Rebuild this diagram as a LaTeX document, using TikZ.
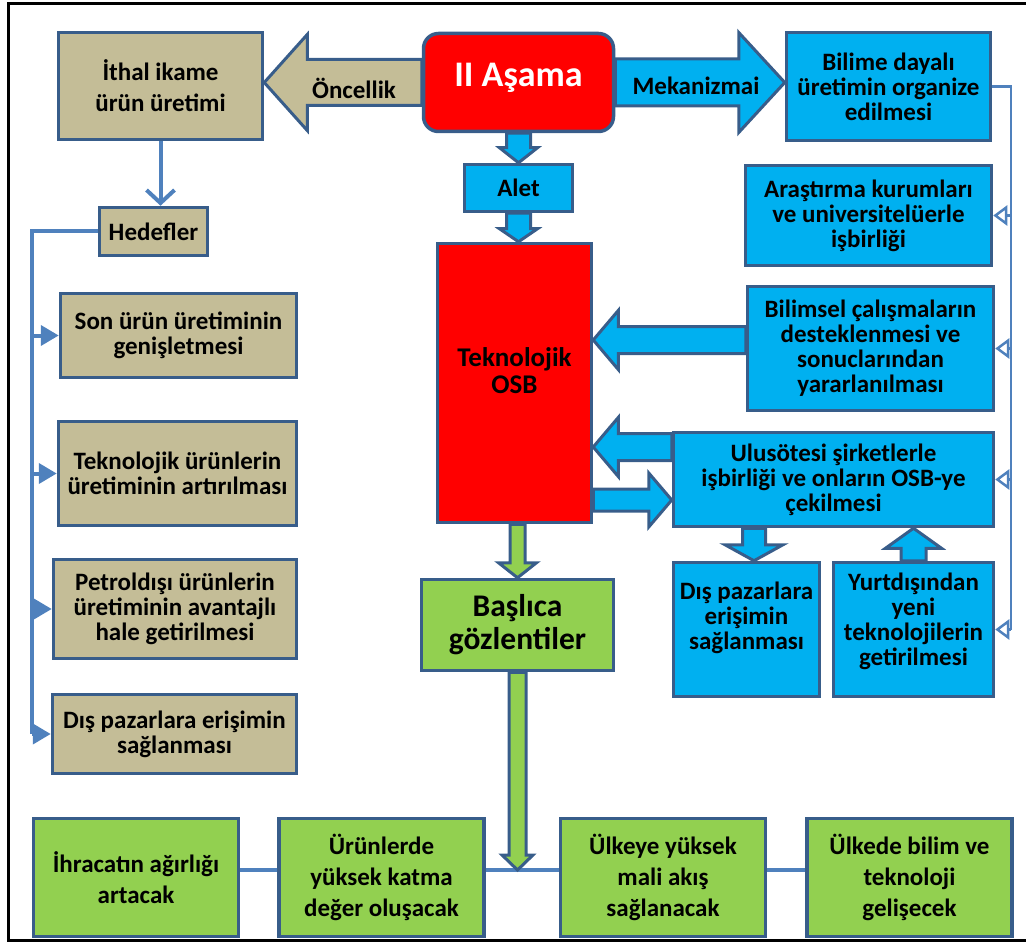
\documentclass[tikz,border=0pt]{standalone}
\usepackage{fontspec}
\setmainfont{Carlito}
\usetikzlibrary{arrows.meta, positioning, calc}
\definecolor{boxline}{RGB}{56,93,138}
\definecolor{linkblue}{RGB}{79,129,189}
\definecolor{tanfill}{RGB}{196,189,151}
\definecolor{skyfill}{RGB}{0,176,240}
\definecolor{redfill}{RGB}{255,0,0}
\definecolor{greenfill}{RGB}{146,208,80}

\newcommand{\blockarrow}[6][]{%
  \draw[fat,#1] ($(#2)!#4!-90:(#3)$) -- ($(#3)!#6!(#2)!#4!-90:(#3)$)
    -- ($(#3)!#6!(#2)!#5!-90:(#3)$) -- (#3)
    -- ($(#3)!#6!(#2)!#5!90:(#3)$) -- ($(#3)!#6!(#2)!#4!90:(#3)$)
    -- ($(#2)!#4!90:(#3)$) -- cycle;}

\begin{document}
\begin{tikzpicture}[
        x=1pt, y=-1pt,
        box/.style={rectangle, draw=boxline, line width=3.5pt, align=center, inner sep=2pt, font=\bfseries\fontsize{25}{25}\selectfont},
        tanbox/.style={box, fill=tanfill},
        bluebox/.style={box, fill=skyfill},
        redbox/.style={box, fill=redfill},
        greenbox/.style={box, fill=greenfill, minimum width=205pt, minimum height=118pt, font=\bfseries\fontsize{25}{31}\selectfont},
        fat/.style={draw=boxline, line width=3pt, line join=miter},
        link/.style={linkblue, line width=4pt},
        thinlink/.style={linkblue, line width=2.5pt},
        rowlink/.style={linkblue, line width=4.5pt},
        lbl/.style={font=\bfseries\fontsize{25}{25}\selectfont}
    ]
        \useasboundingbox (0,0) rectangle (1026,944);
        \draw[line width=3pt] (8,4) rectangle (1040,940);

        \node[tanbox, minimum width=204pt, minimum height=107pt, font=\bfseries\fontsize{25}{31}\selectfont] (ithal) at (160.5,86) {İthal ikame\\ürün üretimi};
        \node[redbox, rounded corners=15pt, minimum width=190pt, minimum height=98pt, text=white, font=\bfseries\fontsize{36}{40}\selectfont, text depth=16pt] (asama) at (518.5,82.5) {II Aşama};
        \node[bluebox, minimum width=204pt, minimum height=108pt] (bilime) at (888.5,86.5) {Bilime dayalı\\üretimin organize\\edilmesi};
        \node[tanbox, minimum width=108pt, minimum height=48pt] (hedef) at (153.5,231.5) {Hedefler};
        \node[bluebox, minimum width=108pt, minimum height=47pt] (alet) at (518.5,188) {Alet};
        \node[bluebox, minimum width=246pt, minimum height=100pt] (arastirma) at (868.5,215.5) {Araştırma kurumları\\ve universitelüerle\\işbirliği};
        \node[redbox, minimum width=154pt, minimum height=279pt, font=\bfseries\fontsize{27}{27}\selectfont, text depth=24pt] (tekosb) at (514.5,383) {Teknolojik\\OSB};
        \node[bluebox, minimum width=246pt, minimum height=124pt] (bilimsel) at (870.5,348.5) {Bilimsel çalışmaların\\desteklenmesi ve\\sonuclarından\\yararlanılması};
        \node[bluebox, minimum width=320pt, minimum height=94pt] (ulus) at (833.5,479.5) {Ulusötesi şirketlerle\\işbirliği ve onların OSB-ye\\çekilmesi};
        \node[bluebox, minimum width=146pt, minimum height=134pt, text depth=28pt] (dispazb) at (746.5,629.5) {Dış pazarlara\\erişimin\\sağlanması};
        \node[bluebox, minimum width=160pt, minimum height=134pt, text depth=21pt] (yurt) at (913.5,629.5) {Yurtdışından\\yeni\\teknolojilerin\\getirilmesi};
        \node[box, fill=greenfill, minimum width=192pt, minimum height=91pt, font=\bfseries\fontsize{31.5}{33}\selectfont] (baslica) at (517.5,625) {Başlıca\\gözlentiler};

        \node[tanbox, minimum width=236pt, minimum height=84pt] (son) at (178.5,335.5) {Son ürün üretiminin\\genişletmesi};
        \node[tanbox, minimum width=238pt, minimum height=104pt] (tekurun) at (177.5,473.5) {Teknolojik ürünlerin\\üretiminin artırılması};
        \node[tanbox, minimum width=243pt, minimum height=99pt] (petrol) at (175,609) {Petroldışı ürünlerin\\üretiminin avantajlı\\hale getirilmesi};
        \node[tanbox, minimum width=244pt, minimum height=79pt] (dispaza) at (174.5,734) {Dış pazarlara erişimin\\sağlanması};

        \node[greenbox] (ihracat) at (136,877.5) {İhracatın ağırlığı\\artacak};
        \node[greenbox, right=37pt of ihracat] (urunler) {Ürünlerde\\yüksek katma\\değer oluşacak};
        \node[greenbox, right=73pt of urunler] (ulkeye) {Ülkeye yüksek\\mali akış\\sağlanacak};
        \node[greenbox, right=38pt of ulkeye] (ulkede) {Ülkede bilim ve\\teknoloji\\gelişecek};

        \coordinate (ltrunk) at (32,0);
        \coordinate (rtrunk) at (1011,0);
        \coordinate (rowline) at (0,870);

        \draw[link, -{Straight Barb[length=13pt, width=28pt]}] (ithal.south) -- (ithal.south |- hedef.north);
        \draw[link] (hedef.west) -| (ltrunk |- dispaza.west);
        \foreach \goal in {son, tekurun, petrol, dispaza}
            \draw[link, -{Triangle[length=18pt, width=20pt]}] (ltrunk |- \goal.west) -- (\goal.west);

        \draw[thinlink] (bilime.east) -| (rtrunk |- yurt.east);
        \foreach \goal in {arastirma, bilimsel, ulus, yurt}
            \draw[thinlink, -{Triangle[open, length=14pt, width=20pt]}] (rtrunk |- \goal.east) -- (\goal.east);

        \draw[rowlink] (ihracat.east |- rowline) -- (urunler.west |- rowline);
        \draw[rowlink] (urunler.east |- rowline) -- (ulkeye.west |- rowline);
        \draw[rowlink] (ulkeye.east |- rowline) -- (ulkede.west |- rowline);

        \coordinate (oncTip) at (asama.west -| ithal.east);
        \coordinate (mekTip) at (asama.east -| bilime.west);
        \coordinate (osbTop) at (alet.south |- tekosb.north);
        \coordinate (bsOut) at ([yshift=8.5pt]bilimsel.west);
        \coordinate (bsTip) at (bsOut -| tekosb.east);
        \coordinate (usOut) at ([yshift=32.5pt]ulus.west);
        \coordinate (usTip) at (usOut -| tekosb.east);
        \coordinate (usIn) at ([yshift=-20.5pt]ulus.west);
        \coordinate (osbOut) at (usIn -| tekosb.east);
        \coordinate (dpTip) at ([xshift=7.5pt]dispazb.north);
        \coordinate (dpOut) at (dpTip |- ulus.south);
        \coordinate (yuTip) at (yurt.north |- ulus.south);
        \coordinate (gsOut) at (baslica.north |- tekosb.south);
        \coordinate (rowJoin) at (baslica.south |- rowline);

        \blockarrow[fill=tanfill]{asama.west}{oncTip}{23pt}{48pt}{43pt}
        \blockarrow[fill=skyfill]{asama.east}{mekTip}{23.5pt}{50pt}{46pt}
        \blockarrow[fill=skyfill]{asama.south}{alet.north}{12pt}{19pt}{15pt}
        \blockarrow[fill=skyfill]{alet.south}{osbTop}{12pt}{19pt}{13pt}
        \blockarrow[fill=skyfill]{bsOut}{bsTip}{13.5pt}{29.5pt}{25pt}
        \blockarrow[fill=skyfill]{usOut}{usTip}{13.5pt}{29.5pt}{25pt}
        \blockarrow[fill=skyfill]{osbOut}{usIn}{11pt}{27pt}{23pt}
        \blockarrow[fill=skyfill]{dpOut}{dpTip}{11.5pt}{29pt}{16pt}
        \blockarrow[fill=skyfill]{yurt.north}{yuTip}{12.5pt}{28pt}{20pt}
        \blockarrow[fill=greenfill]{gsOut}{baslica.north}{7.5pt}{19pt}{15pt}
        \blockarrow[fill=greenfill]{baslica.south}{rowJoin}{8.5pt}{15.5pt}{15pt}

        \node[lbl] (oncellik) at (354,88) {Öncellik};
        \node[lbl] (mekanizma) at (696,86) {Mekanizmai};
    \end{tikzpicture}
\end{document}
